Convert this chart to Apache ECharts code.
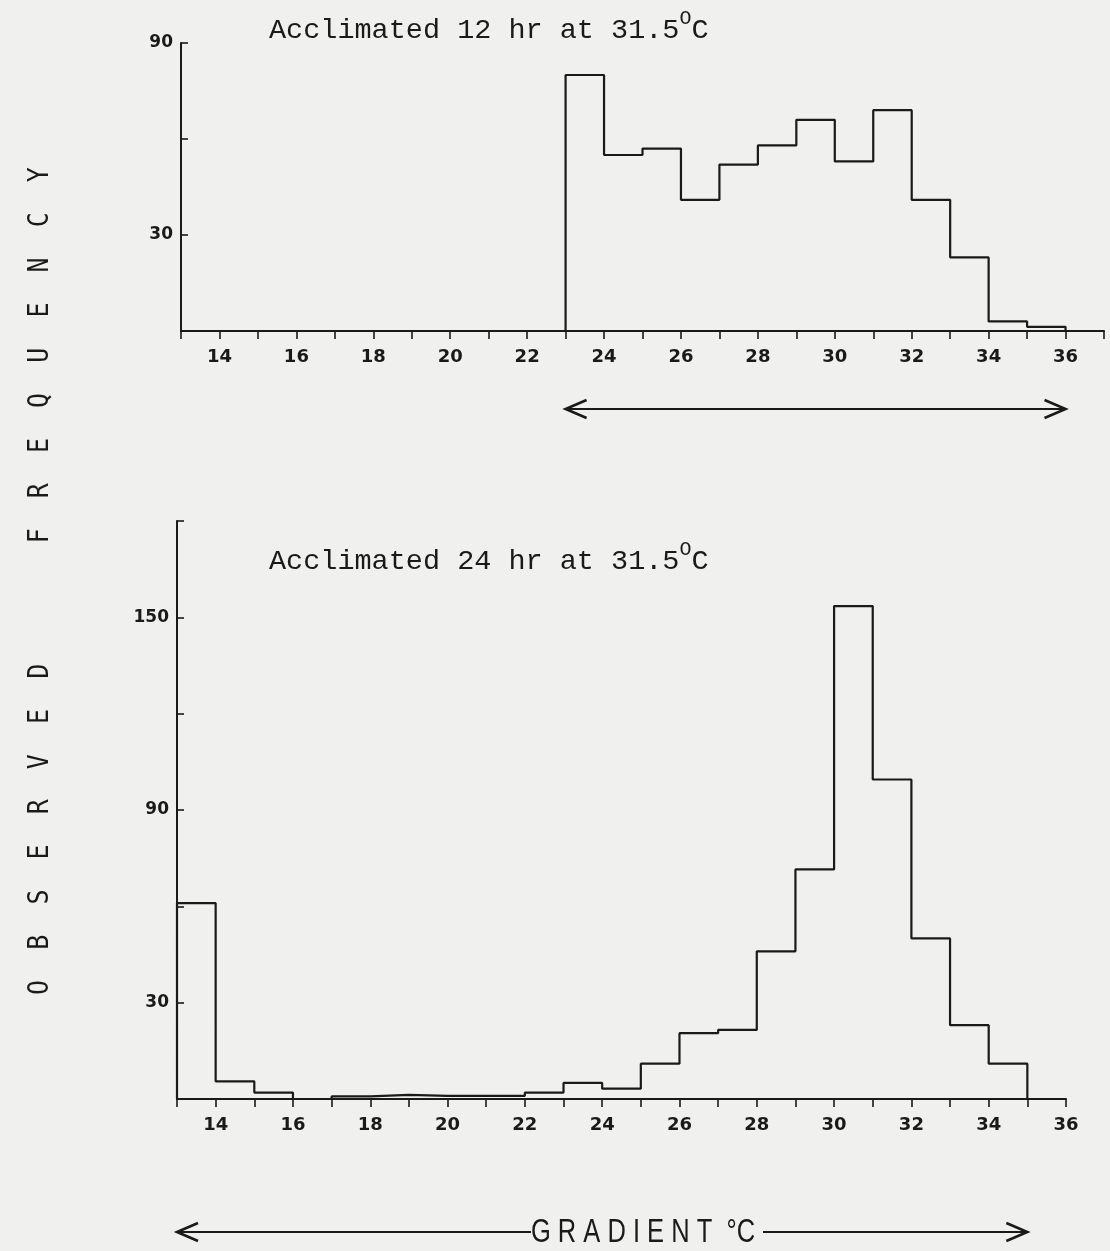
<!DOCTYPE html>
<html>
<head>
<meta charset="utf-8">
<script src="https://cdn.jsdelivr.net/npm/echarts@6/dist/echarts.min.js"></script>
<style>
  html, body { margin: 0; padding: 0; background: #f0f0ef; }
  #chart { width: 1110px; height: 1251px; }
</style>
</head>
<body>
<div id="chart"></div>
<script>
// Observed frequency per 1 °C class of the gradient; each list starts at its first class edge.
const binStart12 = 23;
const freq12 = [80, 55, 57, 41, 52, 58, 66, 53, 69, 41, 23, 3, 1.3];
const binStart24 = 13;
const freq24 = [61, 5.5, 2, 0, 0.8, 1.3, 1, 1, 1, 2, 5, 3.2, 11, 20.5, 21.5, 46, 71.5, 153.5, 99.5, 50, 23, 11];

const panelTitles = ['Acclimated 12 hr at 31.5', 'Acclimated 24 hr at 31.5'];
const yAxisTitle = 'OBSERVED FREQUENCY';
const xAxisTitle = 'GRADIENT';
const xRange12 = [13, 37];
const xRange24 = [13, 36];
const yMax12 = 90;
const yMax24 = 180;
const arrowSpan12 = [23, 36];
const arrowSpan24 = [13, 35];

const INK = '#1a1a1a';
const MONO = '"Liberation Mono", "DejaVu Sans Mono", monospace';
const TICK_FONT = '"DejaVu Sans", Roboto, sans-serif';

// Outline points of a histogram drawn as a stepped line
function stepPoints(start, freqs) {
  const pts = [[start, 0]];
  freqs.forEach((v, i) => pts.push([start + i, v]));
  pts.push([start + freqs.length, 0]);
  return pts;
}

function xAxisFor(gridIndex, range) {
  return {
    type: 'value', gridIndex: gridIndex, min: range[0], max: range[1], interval: 1,
    axisLine: { lineStyle: { color: INK, width: 2 } },
    axisTick: { inside: false, length: 8, lineStyle: { color: INK, width: 1.6 } },
    axisLabel: {
      margin: 17, color: INK, fontFamily: TICK_FONT, fontWeight: 'bold', fontSize: 18,
      formatter: v => (v % 2 === 0 ? String(v) : '')
    },
    splitLine: { show: false }
  };
}

function yAxisFor(gridIndex, max) {
  return {
    type: 'value', gridIndex: gridIndex, min: 0, max: max, interval: 30,
    axisLine: { show: true, lineStyle: { color: INK, width: 2 } },
    axisTick: { show: true, inside: true, length: 7, lineStyle: { color: INK, width: 1.6 } },
    axisLabel: {
      margin: 8, color: INK, fontFamily: TICK_FONT, fontWeight: 'bold', fontSize: 17,
      formatter: v => (v % 60 === 30 ? String(v) : '')
    },
    splitLine: { show: false }
  };
}

function titleFor(text, top) {
  return {
    text: text + '{sup|O}C', left: 269, top: top, padding: 0,
    textStyle: {
      fontFamily: MONO, fontWeight: 'normal', fontSize: 28.5, color: INK, lineHeight: 42,
      rich: { sup: { fontFamily: MONO, fontSize: 20, color: INK, verticalAlign: 'top', lineHeight: 22 } }
    }
  };
}

const chart = echarts.init(document.getElementById('chart'), null, { renderer: 'canvas' });

const histLine = { color: INK, width: 2.2 };

chart.setOption({
  backgroundColor: '#f0f0ef',
  animation: false,
  title: [titleFor(panelTitles[0], 9), titleFor(panelTitles[1], 540)],
  grid: [
    { left: 181, right: 6, top: 43, height: 288 },
    { left: 177, right: 44, top: 521, bottom: 152 }
  ],
  xAxis: [xAxisFor(0, xRange12), xAxisFor(1, xRange24)],
  yAxis: [yAxisFor(0, yMax12), yAxisFor(1, yMax24)],
  series: [
    {
      type: 'line', xAxisIndex: 0, yAxisIndex: 0, step: 'end', symbol: 'none',
      lineStyle: histLine, data: stepPoints(binStart12, freq12)
    },
    {
      type: 'line', xAxisIndex: 1, yAxisIndex: 1, step: 'end', symbol: 'none',
      lineStyle: histLine, data: stepPoints(binStart24, freq24)
    }
  ]
});

// Double-headed arrows under the panels and the rotated frequency label
function arrowHead(x, y, dir) {
  return {
    type: 'polyline', silent: true,
    shape: { points: [[x + dir * 21, y - 9], [x, y], [x + dir * 21, y + 9]] },
    style: { stroke: INK, lineWidth: 2.6, fill: null }
  };
}
function segment(x1, x2, y) {
  return {
    type: 'line', silent: true,
    shape: { x1: x1, y1: y, x2: x2, y2: y },
    style: { stroke: INK, lineWidth: 1.9 }
  };
}

const a0 = chart.convertToPixel({ gridIndex: 0 }, [arrowSpan12[0], 0]);
const a1 = chart.convertToPixel({ gridIndex: 0 }, [arrowSpan12[1], 0]);
const ya = a0[1] + 78;
const b0 = chart.convertToPixel({ gridIndex: 1 }, [arrowSpan24[0], 0]);
const b1 = chart.convertToPixel({ gridIndex: 1 }, [arrowSpan24[1], 0]);
const yb = b0[1] + 133;

const gradCenter = 643;
const gradLabel = xAxisTitle.split('').join(' ') + '  °C';
const freqLabel = yAxisTitle.split(' ').map(w => w.split('').join('  ')).join(' '.repeat(8));

chart.setOption({
  graphic: [
    segment(a0[0] + 1, a1[0] - 1, ya),
    arrowHead(a0[0], ya, 1),
    arrowHead(a1[0], ya, -1),
    segment(b0[0] + 1, gradCenter - 112, yb),
    segment(gradCenter + 120, b1[0] - 1, yb),
    arrowHead(b0[0], yb, 1),
    arrowHead(b1[0], yb, -1),
    {
      type: 'text', silent: true, x: gradCenter, y: yb + 1, scaleX: 0.85, scaleY: 1.08,
      style: {
        text: gradLabel, font: '30px "Liberation Sans", Arial, sans-serif', fill: INK,
        align: 'center', verticalAlign: 'middle', textAlign: 'center', textVerticalAlign: 'middle'
      }
    },
    {
      type: 'text', silent: true, x: 41, y: 581, rotation: Math.PI / 2, scaleY: 1.15,
      style: {
        text: freqLabel, font: '25px "DejaVu Sans Mono", monospace', fill: INK,
        align: 'center', verticalAlign: 'middle', textAlign: 'center', textVerticalAlign: 'middle'
      }
    }
  ]
});
</script>
</body>
</html>
